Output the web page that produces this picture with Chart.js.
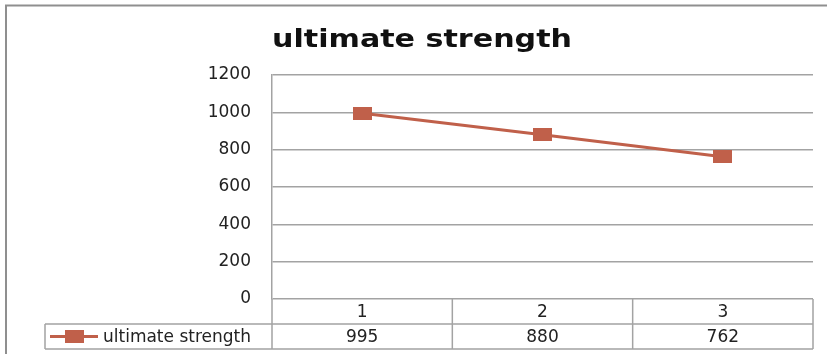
<!DOCTYPE html>
<html>
<head>
<meta charset="utf-8">
<script src="https://cdn.jsdelivr.net/npm/chart.js@4/dist/chart.umd.min.js"></script>
<style>
  html, body { margin: 0; padding: 0; background: #ffffff; }
  #wrap { width: 827px; height: 354px; position: relative; }
  canvas { display: block; }
</style>
</head>
<body>
<div id="wrap"><canvas id="c" width="827" height="354"></canvas></div>
<script>
// Data
const chartTitle = 'ultimate strength';
const seriesName = 'ultimate strength';
const categories = ['1', '2', '3'];
const strengthValues = [995, 880, 762];
const yTicks = [0, 200, 400, 600, 800, 1000, 1200];

// Styles
const lineColor = '#c0604a';
const gridColor = '#a3a3a3';
const frameColor = '#8f8f8f';
const textColor = '#222222';
const bodyFamily = '"DejaVu Sans", sans-serif';
const bodySize = 17;

// Wide rectangular marker used for the series points
function makeMarker(w, h) {
  const c = document.createElement('canvas');
  c.width = w; c.height = h;
  const g = c.getContext('2d');
  g.fillStyle = lineColor;
  g.fillRect(0, 0, w, h);
  return c;
}
const marker = makeMarker(19, 13);

// Frame, title and the data table under the plot
const tablePlugin = {
  id: 'dataTable',
  beforeDraw(chart) {
    const ctx = chart.ctx;
    ctx.save();
    ctx.fillStyle = '#ffffff';
    ctx.fillRect(0, 0, chart.width, chart.height);
    ctx.strokeStyle = frameColor;
    ctx.lineWidth = 2;
    ctx.beginPath();
    ctx.moveTo(6, chart.height + 5);
    ctx.lineTo(6, 5.5);
    ctx.lineTo(chart.width + 5, 5.5);
    ctx.stroke();

    // title, slightly widened
    ctx.fillStyle = '#111111';
    ctx.font = 'bold 25px "DejaVu Sans", sans-serif';
    const w = ctx.measureText(chartTitle).width;
    ctx.translate(422, 47);
    ctx.scale(300 / w, 1);
    ctx.textAlign = 'center';
    ctx.textBaseline = 'alphabetic';
    ctx.fillText(chartTitle, 0, 0);
    ctx.restore();
  },
  afterDraw(chart) {
    const { ctx, chartArea: a, scales: { x } } = chart;
    const rowMid = 324;
    const rowEnd = 349;
    const legendLeft = 45;
    ctx.save();
    ctx.strokeStyle = gridColor;
    ctx.lineWidth = 1.5;
    ctx.beginPath();
    // horizontal rules
    ctx.moveTo(a.left, rowMid); ctx.lineTo(a.right, rowMid);
    ctx.moveTo(legendLeft, rowMid); ctx.lineTo(a.left, rowMid);
    ctx.moveTo(legendLeft, rowEnd); ctx.lineTo(a.right, rowEnd);
    // vertical rules
    ctx.moveTo(a.left, a.bottom); ctx.lineTo(a.left, rowEnd);
    ctx.moveTo(legendLeft, rowMid); ctx.lineTo(legendLeft, rowEnd);
    ctx.moveTo(a.right, a.bottom); ctx.lineTo(a.right, rowEnd);
    for (let i = 1; i < categories.length; i++) {
      const bx = (x.getPixelForValue(i - 1) + x.getPixelForValue(i)) / 2;
      ctx.moveTo(bx, a.bottom); ctx.lineTo(bx, rowEnd);
    }
    ctx.stroke();

    // cell text
    ctx.fillStyle = textColor;
    ctx.font = bodySize + 'px ' + bodyFamily;
    ctx.textAlign = 'center';
    ctx.textBaseline = 'middle';
    categories.forEach((c, i) => {
      const cx = x.getPixelForValue(i);
      ctx.fillText(c, cx, (a.bottom + rowMid) / 2 + 1);
      ctx.fillText(String(strengthValues[i]), cx, (rowMid + rowEnd) / 2 + 1);
    });

    // legend key in the first column
    const ky = (rowMid + rowEnd) / 2;
    ctx.strokeStyle = lineColor;
    ctx.lineWidth = 3;
    ctx.beginPath();
    ctx.moveTo(50, ky); ctx.lineTo(98, ky);
    ctx.stroke();
    ctx.drawImage(marker, 74 - marker.width / 2, ky - marker.height / 2);
    ctx.textAlign = 'left';
    ctx.fillText(seriesName, 103, ky + 1);
    ctx.restore();
  }
};

new Chart(document.getElementById('c'), {
  type: 'line',
  data: {
    labels: categories,
    datasets: [{
      label: seriesName,
      data: strengthValues,
      borderColor: lineColor,
      backgroundColor: lineColor,
      borderWidth: 3,
      tension: 0,
      pointStyle: marker,
      pointHoverStyle: marker
    }]
  },
  options: {
    responsive: false,
    devicePixelRatio: 1,
    animation: false,
    layout: { padding: { top: 75, bottom: 55, left: 0, right: 14 } },
    plugins: {
      legend: { display: false },
      title: { display: false },
      tooltip: { enabled: false }
    },
    scales: {
      x: {
        type: 'category',
        offset: true,
        display: false
      },
      y: {
        min: 0,
        max: 1200,
        afterBuildTicks(s) { s.ticks = yTicks.map(v => ({ value: v })); },
        afterFit(s) { s.width = 272; },
        ticks: {
          padding: 21,
          color: textColor,
          font: { family: bodyFamily, size: bodySize },
          callback: v => String(v)
        },
        grid: { color: gridColor, lineWidth: 1.5, drawTicks: false },
        border: { display: true, color: gridColor, width: 1.5 }
      }
    }
  },
  plugins: [tablePlugin]
});
</script>
</body>
</html>
